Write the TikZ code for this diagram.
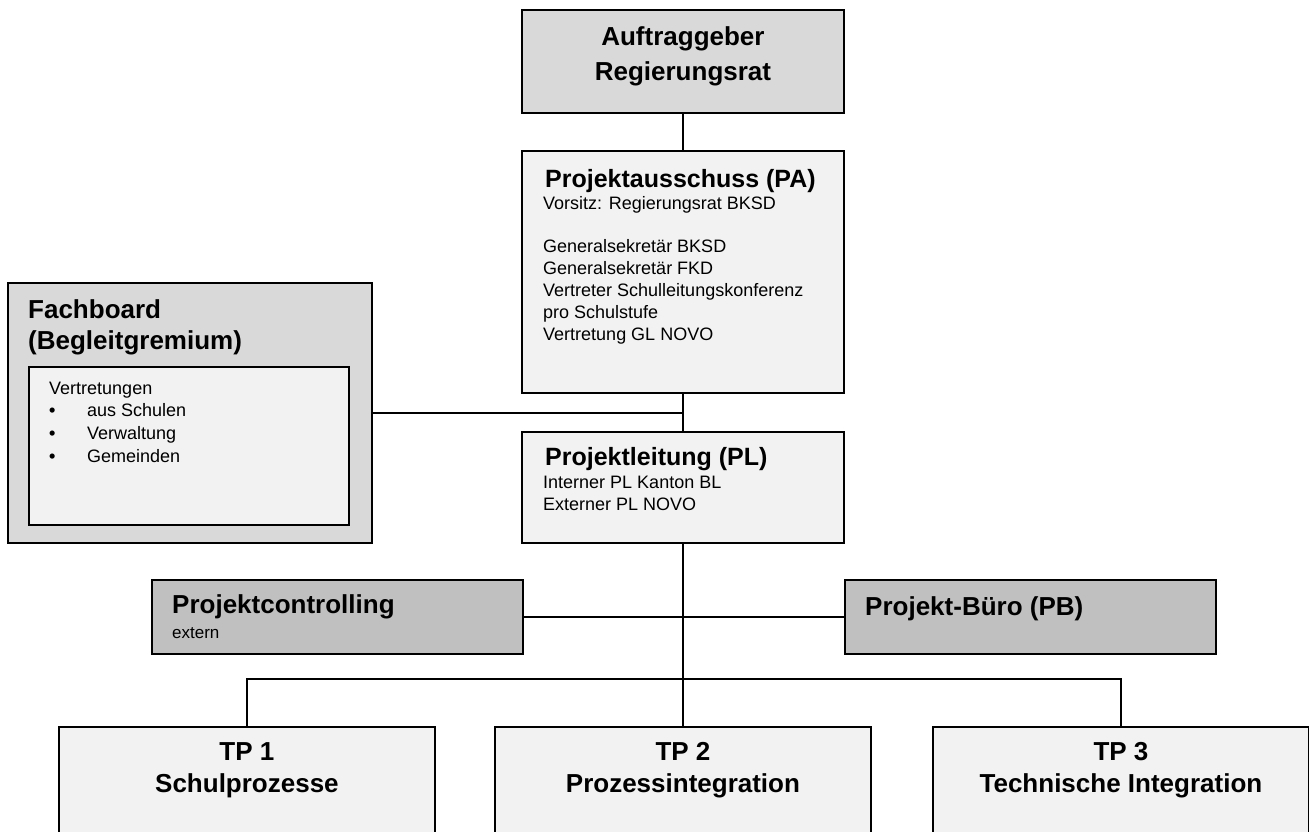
\documentclass[tikz,border=0pt]{standalone}
\usepackage{fontspec}
\setmainfont{Liberation Sans}
\usetikzlibrary{positioning}

\definecolor{boxlight}{HTML}{F2F2F2}
\definecolor{boxmid}{HTML}{D9D9D9}
\definecolor{boxdark}{HTML}{C0C0C0}

\newcommand{\fbitem}{\makebox[38pt][l]{\bfseries\textbullet}}

\tikzset{
  box/.style={draw=black, line width=1.9pt, rectangle, inner sep=0pt, anchor=north west},
  head/.style={font=\bfseries\fontsize{26}{31}\selectfont, inner sep=0pt, align=left},
  body/.style={font=\fontsize{18}{21.8}\selectfont, inner sep=0pt, align=left},
  link/.style={line width=1.6pt},
}

\begin{document}
\begin{tikzpicture}[x=1pt,y=-1pt]
  \useasboundingbox (0,0) rectangle (1309,832);
  \clip (0,0) rectangle (1309,832);

  \node[box, fill=boxmid, minimum width=322pt, minimum height=103pt] (auf) at (521,9) {};
  \node[box, fill=boxlight, minimum width=322pt, minimum height=242pt] (pa) at (521,150) {};
  \node[box, fill=boxlight, minimum width=322pt, minimum height=111pt] (pl) at (521,431) {};
  \node[box, fill=boxmid, minimum width=364pt, minimum height=260pt] (fb) at (7,282) {};
  \node[box, fill=boxlight, minimum width=320pt, minimum height=158pt] (fb inner) at (28,366) {};
  \node[box, fill=boxdark, minimum width=371pt, minimum height=74pt] (pc) at (151,579) {};
  \node[box, fill=boxdark, minimum width=371pt, minimum height=74pt] (pb) at (844,579) {};
  \node[box, fill=boxlight, minimum width=376pt, minimum height=130pt] (tp1) at (58,726) {};
  \node[box, fill=boxlight, minimum width=376pt, minimum height=130pt] (tp2) at (494,726) {};
  \node[box, fill=boxlight, minimum width=376pt, minimum height=130pt] (tp3) at (932,726) {};

  \node[head, align=center, font=\bfseries\fontsize{26}{35}\selectfont, below=17.5pt of auf.north] (auf text) {Auftraggeber\\Regierungsrat};

  \node[head, font=\bfseries\fontsize{25}{30}\selectfont, below right=19pt and 24pt of pa.north west] (pa head) {Projektausschuss (PA)};
  \node[body, below right=46pt and 22pt of pa.north west] (pa body) {Vorsitz: Regierungsrat BKSD\\ \mbox{}\\ Generalsekretär BKSD\\ Generalsekretär FKD\\ Vertreter Schulleitungskonferenz\\ pro Schulstufe\\ Vertretung GL NOVO};

  \node[head, font=\bfseries\fontsize{25}{30}\selectfont, below right=16.5pt and 24pt of pl.north west] (pl head) {Projektleitung (PL)};
  \node[body, below right=45pt and 22pt of pl.north west] (pl body) {Interner PL Kanton BL\\ Externer PL NOVO};

  \node[head, below right=17.5pt and 21pt of fb.north west] (fb head) {Fachboard\\(Begleitgremium)};
  \node[body, font=\fontsize{18}{22.8}\selectfont, below right=15.5pt and 21pt of fb inner.north west] (fb body) {Vertretungen\\
    \fbitem aus Schulen\\
    \fbitem Verwaltung\\
    \fbitem Gemeinden};

  \node[head, below right=15.5pt and 21pt of pc.north west] (pc head) {Projektcontrolling};
  \node[body, font=\fontsize{17}{20}\selectfont, anchor=base west] (pc note) at (172,638) {extern};

  \node[head, below right=17pt and 21pt of pb.north west] (pb head) {Projekt-Büro (PB)};

  \node[head, align=center, font=\bfseries\fontsize{26}{32}\selectfont, below=16.5pt of tp1.north] (tp1 text) {TP 1\\Schulprozesse};
  \node[head, align=center, font=\bfseries\fontsize{26}{32}\selectfont, below=16.5pt of tp2.north] (tp2 text) {TP 2\\Prozessintegration};
  \node[head, align=center, font=\bfseries\fontsize{26}{32}\selectfont, below=16.5pt of tp3.north] (tp3 text) {TP 3\\Technische Integration};

  \coordinate (fb join) at (fb.east -| pa.south);
  \draw[link] (auf.south) -- (pa.north);
  \draw[link] (pa.south) -- (pl.north);
  \draw[link] (fb.east) -- (fb join);
  \draw[link] (pl.south) -- (tp2.north);
  \draw[link] (pc.east) -- (pb.west);
  \draw[link] (tp1.north) -- ++(0,-47) -| (tp3.north);
\end{tikzpicture}
\end{document}
